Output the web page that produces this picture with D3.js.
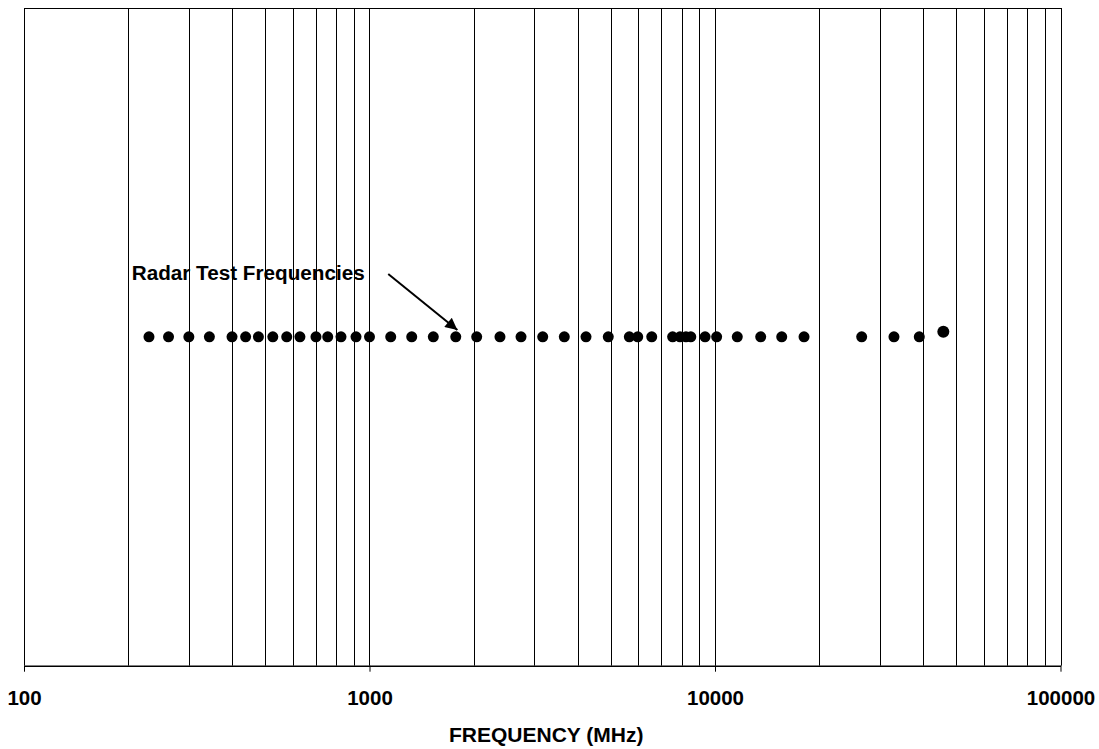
<!DOCTYPE html>
<html>
<head>
<meta charset="utf-8">
<script src="https://cdn.jsdelivr.net/npm/d3@7"></script>
<style>
  body { margin: 0; background: #fff; }
  text { font-family: "Liberation Sans", Arial, sans-serif; font-weight: bold; }
</style>
</head>
<body>
<div id="chart"></div>
<script>
// Chart data
var frequencies = [230, 262, 300, 344, 400, 438, 477, 525, 576, 629, 700, 757, 827, 914, 1000,
  1152, 1325, 1530, 1777, 2043, 2386, 2745, 3172, 3663, 4233, 4910,
  5650, 5975, 6560, 7540, 7920, 8240, 8510, 9360, 10110,
  11600, 13560, 15600, 18100, 26580, 32960, 39020];
var level = 1;
var extraPoint = [45800];
var extraLevel = 1.0152;
var tickLabels = [100, 1000, 10000, 100000];
var annotation = "Radar Test Frequencies";
var xTitle = "FREQUENCY (MHz)";

var svgWidth = 1099;
var svgHeight = 749;

var margin = { top: 8, bottom: 83.3, right: 38.5, left: 24 };

var width = svgWidth - margin.left - margin.right;
var height = svgHeight - margin.top - margin.bottom;

var svg = d3.select("#chart")
  .append("svg")
  .attr("width", svgWidth)
  .attr("height", svgHeight);

var chartGroup = svg.append("g")
  .attr("transform", `translate(${margin.left}, ${margin.top})`);

// Scales
var xLogScale = d3.scaleLog()
  .domain([100, 100000])
  .range([0, width]);

var yLinearScale = d3.scaleLinear()
  .domain([0, 2])
  .range([height, 0]);

// Annotation text (sits under the grid lines, like the original)
chartGroup.append("text")
  .attr("x", xLogScale(205))
  .attr("y", yLinearScale(1.173))
  .attr("font-size", "20.7px")
  .attr("fill", "#000")
  .text(annotation);

// Grid lines at every 1..9 x decade
var gridValues = [];
[100, 1000, 10000].forEach(function(d) {
  for (var i = 1; i <= 9; i++) gridValues.push(d * i);
});
gridValues.push(100000);

chartGroup.append("g")
  .selectAll("line")
  .data(gridValues)
  .enter()
  .append("line")
  .attr("x1", d => Math.round(xLogScale(d)) + 0.5)
  .attr("x2", d => Math.round(xLogScale(d)) + 0.5)
  .attr("y1", 0)
  .attr("y2", height)
  .attr("stroke", "#000")
  .attr("stroke-width", 1);

// Top border
chartGroup.append("line")
  .attr("x1", 0.5)
  .attr("x2", Math.round(width) + 0.5)
  .attr("y1", 0.5)
  .attr("y2", 0.5)
  .attr("stroke", "#000");

// Bottom axis
var bottomAxis = d3.axisBottom(xLogScale)
  .tickValues(tickLabels)
  .tickFormat(d3.format("d"))
  .tickSizeInner(6)
  .tickSizeOuter(0)
  .tickPadding(19);

var axisG = chartGroup.append("g")
  .attr("transform", `translate(0, ${height})`)
  .call(bottomAxis);

axisG.select(".domain").attr("stroke", "#000").attr("stroke-width", 1.5);
axisG.selectAll(".tick line").attr("stroke", "#000");
axisG.selectAll(".tick text")
  .attr("font-size", "20.5px")
  .attr("font-family", "Liberation Sans, Arial, sans-serif")
  .attr("font-weight", "bold")
  .attr("fill", "#000");

// Points
chartGroup.append("g")
  .selectAll("circle")
  .data(frequencies)
  .enter()
  .append("circle")
  .attr("cx", d => xLogScale(d))
  .attr("cy", yLinearScale(level))
  .attr("r", 5.5)
  .attr("fill", "#000");

chartGroup.append("g")
  .selectAll("circle")
  .data(extraPoint)
  .enter()
  .append("circle")
  .attr("cx", d => xLogScale(d))
  .attr("cy", yLinearScale(extraLevel))
  .attr("r", 6)
  .attr("fill", "#000");

// Arrow
svg.append("defs").append("marker")
  .attr("id", "arrowhead")
  .attr("viewBox", "0 0 10 10")
  .attr("refX", 10)
  .attr("refY", 5)
  .attr("markerWidth", 8)
  .attr("markerHeight", 6)
  .attr("markerUnits", "strokeWidth")
  .attr("orient", "auto")
  .append("path")
  .attr("d", "M0,0 L10,5 L0,10 Z")
  .attr("fill", "#000");

chartGroup.append("line")
  .attr("x1", xLogScale(1133))
  .attr("y1", yLinearScale(1.191))
  .attr("x2", xLogScale(1796))
  .attr("y2", yLinearScale(1.0208))
  .attr("stroke", "#000")
  .attr("stroke-width", 2)
  .attr("marker-end", "url(#arrowhead)");

// X axis title
chartGroup.append("text")
  .attr("x", width / 2 + 4)
  .attr("y", height + 76)
  .attr("text-anchor", "middle")
  .attr("font-size", "21px")
  .attr("fill", "#000")
  .text(xTitle);
</script>
</body>
</html>
